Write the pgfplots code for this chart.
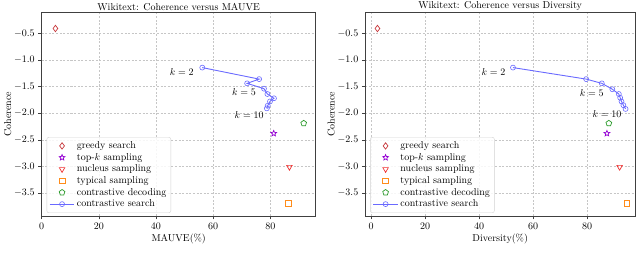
\documentclass[border=0pt]{standalone}
\usepackage{pgfplots}
\pgfplotsset{compat=1.18}
\usetikzlibrary{plotmarks}
\definecolor{cgreedy}{HTML}{C8383C}
\definecolor{ctopk}{HTML}{9400D3}
\definecolor{cnucleus}{HTML}{F03030}
\definecolor{ctypical}{HTML}{FF8C1A}
\definecolor{ccd}{HTML}{2A9A2A}
\definecolor{ccs}{HTML}{6A6AFF}
\definecolor{cframe}{HTML}{404040}
\pgfdeclareplotmark{ostar}{%
  \pgfpathmoveto{\pgfpointpolar{90}{\pgfplotmarksize}}%
  \pgfpathlineto{\pgfpointpolar{126}{0.45\pgfplotmarksize}}%
  \pgfpathlineto{\pgfpointpolar{162}{\pgfplotmarksize}}%
  \pgfpathlineto{\pgfpointpolar{198}{0.45\pgfplotmarksize}}%
  \pgfpathlineto{\pgfpointpolar{234}{\pgfplotmarksize}}%
  \pgfpathlineto{\pgfpointpolar{270}{0.45\pgfplotmarksize}}%
  \pgfpathlineto{\pgfpointpolar{306}{\pgfplotmarksize}}%
  \pgfpathlineto{\pgfpointpolar{342}{0.45\pgfplotmarksize}}%
  \pgfpathlineto{\pgfpointpolar{18}{\pgfplotmarksize}}%
  \pgfpathlineto{\pgfpointpolar{54}{0.45\pgfplotmarksize}}%
  \pgfpathclose\pgfusepathqstroke}
\pgfplotsset{
  myleg/.style={legend image code/.code={\draw[mark repeat=2,mark phase=2,##1] plot coordinates {(0cm,0cm) (0.435cm,0cm) (0.87cm,0cm)};}},
  mystyle/.style={
    scale only axis,
    height=203.7pt,
    ymin=-3.93, ymax=-0.106,
    ytick={-3.5,-3,-2.5,-2,-1.5,-1,-0.5},
    yticklabels={$-3.5$,$-3.0$,$-2.5$,$-2.0$,$-1.5$,$-1.0$,$-0.5$},
    xtick={0,20,40,60,80},
    tick pos=left, tick align=outside,
    major tick length=3.5pt,
    axis line style={cframe, line width=0.8pt},
    tick style={cframe, line width=0.6pt},
    grid=major,
    major grid style={dash pattern=on 2pt off 1.6pt, gray!45, line width=0.4pt},
    ylabel={Coherence},
    ylabel style={yshift=-4pt},
    xlabel style={yshift=2pt},
    title style={yshift=-8pt},
    legend cell align=left,
    legend style={at={(0.018,0.015)}, anchor=south west, draw=gray!35, rounded corners=2pt, fill=white, fill opacity=0.85, text opacity=1, font=\normalsize, row sep=-0.8pt, inner sep=2.4pt},
    every axis plot/.append style={line width=0.7pt},
  },
  csline/.style={sharp plot, color=ccs, mark=o, mark size=2.5pt, line width=0.9pt, mark options={line width=0.6pt}, myleg},
  omk/.style={only marks, myleg},
}
\begin{document}
\begin{tikzpicture}
\path[use as bounding box] (0,0) rectangle (640pt,262pt);
% Left panel
\begin{axis}[mystyle, myleg, at={(41.7pt,46pt)}, anchor=south west, width=274pt,
  xmin=0, xmax=95.9,
  title={Wikitext: Coherence versus MAUVE},
  xlabel={MAUVE(\%)}]
\addplot[omk, mark=diamond, mark size=3.2pt, color=cgreedy] coordinates {(4.8,-0.41)};
\addlegendentry{greedy search}
\addplot[omk, mark=ostar, mark size=3pt, color=ctopk] coordinates {(81.2,-2.38)};
\addlegendentry{top-$k$ sampling}
\addplot[omk, mark=triangle, mark options={rotate=180}, mark size=3.2pt, color=cnucleus] coordinates {(86.7,-3.01)};
\addlegendentry{nucleus sampling}
\addplot[omk, mark=square, mark size=2.8pt, color=ctypical] coordinates {(86.3,-3.69)};
\addlegendentry{typical sampling}
\addplot[omk, mark=pentagon, mark size=3pt, color=ccd] coordinates {(91.7,-2.19)};
\addlegendentry{contrastive decoding}
\addplot[csline] coordinates {
(56.2,-1.144) (76.1,-1.36) (71.9,-1.44) (77.8,-1.54) (79.0,-1.64) (81.3,-1.72) (79.9,-1.78) (79.1,-1.86) (78.8,-1.91)};
\addlegendentry{contrastive search}
\node at (axis cs:49.0,-1.225) {$k=2$};
\node at (axis cs:70.8,-1.61) {$k=5$};
\node at (axis cs:72.6,-2.03) {$k=10$};
\end{axis}
% Right panel
\begin{axis}[mystyle, myleg, at={(365.3pt,46pt)}, anchor=south west, width=269.7pt,
  xmin=-2.2, xmax=97.7,
  title={Wikitext: Coherence versus Diversity},
  xlabel={Diversity(\%)}]
\addplot[omk, mark=diamond, mark size=3.2pt, color=cgreedy] coordinates {(2.3,-0.41)};
\addlegendentry{greedy search}
\addplot[omk, mark=ostar, mark size=3pt, color=ctopk] coordinates {(87.3,-2.38)};
\addlegendentry{top-$k$ sampling}
\addplot[omk, mark=triangle, mark options={rotate=180}, mark size=3.2pt, color=cnucleus] coordinates {(92.0,-3.01)};
\addlegendentry{nucleus sampling}
\addplot[omk, mark=square, mark size=2.8pt, color=ctypical] coordinates {(94.7,-3.69)};
\addlegendentry{typical sampling}
\addplot[omk, mark=pentagon, mark size=3pt, color=ccd] coordinates {(88.0,-2.19)};
\addlegendentry{contrastive decoding}
\addplot[csline] coordinates {
(52.5,-1.144) (79.6,-1.36) (85.4,-1.44) (89.3,-1.55) (91.7,-1.64) (92.2,-1.71) (92.7,-1.78) (93.4,-1.85) (94.2,-1.92)};
\addlegendentry{contrastive search}
\node at (axis cs:45.3,-1.22) {$k=2$};
\node at (axis cs:81.7,-1.62) {$k=5$};
\node at (axis cs:87.3,-2.02) {$k=10$};
\end{axis}
\end{tikzpicture}
\end{document}
